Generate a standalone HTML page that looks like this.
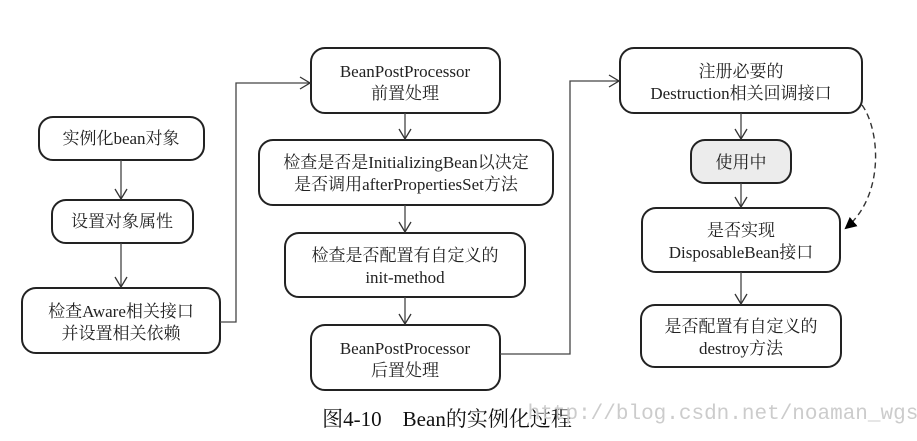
<!DOCTYPE html>
<html><head><meta charset="utf-8"><style>
body{margin:0;background:#fff;width:917px;height:436px;overflow:hidden}
svg text{font-family:"Liberation Serif","Noto Serif CJK SC",serif;font-size:17px;fill:#222;text-anchor:middle}
</style></head><body>
<svg width="917" height="436" viewBox="0 0 917 436" xmlns="http://www.w3.org/2000/svg">
<defs>
<marker id="a" markerWidth="14" markerHeight="14" refX="11" refY="7" orient="auto" markerUnits="userSpaceOnUse"><path d="M1,1 L11,7 L1,13" fill="none" stroke="#333" stroke-width="1.3"/></marker>
<marker id="f" markerWidth="14" markerHeight="14" refX="10" refY="6" orient="auto" markerUnits="userSpaceOnUse"><path d="M0,0 L12,6 L0,12 Z" fill="#000"/></marker>
</defs>
<g fill="#fff" stroke="#222" stroke-width="2">
<rect x="39" y="117" width="165" height="43" rx="14"/>
<rect x="52" y="200" width="141" height="43" rx="14"/>
<rect x="22" y="288" width="198" height="65" rx="14"/>
<rect x="311" y="48" width="189" height="65" rx="14"/>
<rect x="259" y="140" width="294" height="65" rx="14"/>
<rect x="285" y="233" width="240" height="64" rx="14"/>
<rect x="311" y="325" width="189" height="65" rx="14"/>
<rect x="620" y="48" width="242" height="65" rx="14"/>
<rect x="691" y="140" width="100" height="43" rx="14" fill="#ececec"/>
<rect x="642" y="208" width="198" height="64" rx="14"/>
<rect x="641" y="305" width="200" height="62" rx="14"/>
</g>
<g stroke="#444" stroke-width="1.3" fill="none" marker-end="url(#a)">
<line x1="121" y1="160" x2="121" y2="199"/>
<line x1="121" y1="243" x2="121" y2="287"/>
<polyline points="220,322 236,322 236,83 310,83"/>
<line x1="405" y1="113" x2="405" y2="139"/>
<line x1="405" y1="205" x2="405" y2="232"/>
<line x1="405" y1="297" x2="405" y2="324"/>
<polyline points="500,354 570,354 570,81 619,81"/>
<line x1="741" y1="113" x2="741" y2="139"/>
<line x1="741" y1="183" x2="741" y2="207"/>
<line x1="741" y1="272" x2="741" y2="304"/>
</g>
<path d="M862,105 C880,130 885,195 846,228" fill="none" stroke="#333" stroke-width="1.4" stroke-dasharray="6,4" marker-end="url(#f)"/>
<text x="121" y="144">实例化bean对象</text>
<text x="122" y="227">设置对象属性</text>
<text x="121" y="317">检查Aware相关接口</text>
<text x="121" y="339">并设置相关依赖</text>
<text x="405" y="77">BeanPostProcessor</text>
<text x="405" y="99">前置处理</text>
<text x="406" y="168">检查是否是InitializingBean以决定</text>
<text x="406" y="190">是否调用afterPropertiesSet方法</text>
<text x="405" y="261">检查是否配置有自定义的</text>
<text x="405" y="283">init-method</text>
<text x="405" y="354">BeanPostProcessor</text>
<text x="405" y="376">后置处理</text>
<text x="741" y="77">注册必要的</text>
<text x="741" y="99">Destruction相关回调接口</text>
<text x="741" y="168">使用中</text>
<text x="741" y="236">是否实现</text>
<text x="741" y="258">DisposableBean接口</text>
<text x="741" y="332">是否配置有自定义的</text>
<text x="741" y="354">destroy方法</text>
<text x="447" y="426" style="font-size:21px;fill:#111" xml:space="preserve">图4-10　Bean的实例化过程</text>
<text x="723" y="419" style="font-family:'Liberation Mono',monospace;font-size:21px;fill:#ccc">http://blog.csdn.net/noaman_wgs</text>
</svg>
</body></html>
